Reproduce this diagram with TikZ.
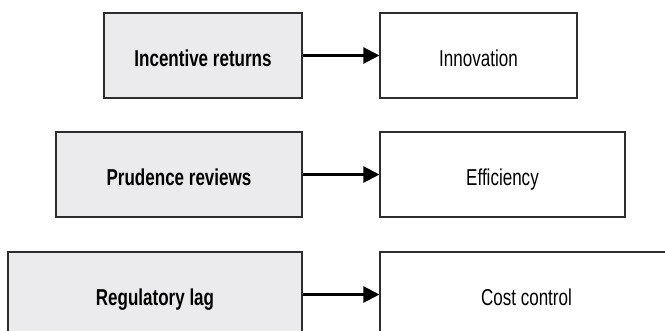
\documentclass[tikz,border=0pt]{standalone}
\usepackage{fontspec}
\setmainfont{Liberation Sans}
\usepackage{graphicx}
\usepackage{xcolor}
\definecolor{box-grey}{RGB}{235,235,237}
\definecolor{edge-grey}{RGB}{45,45,45}
\usepackage{tikz}
\usetikzlibrary{arrows.meta}

% narrow the lettering of the two columns
\newcommand{\causetext}[1]{\scalebox{0.74}[1]{#1}}
\newcommand{\effecttext}[1]{\scalebox{0.74}[1]{#1}}

\begin{document}
\begin{tikzpicture}[x=1pt,y=-1pt,>={Triangle[length=16pt,width=16pt]},
	cause/.style={draw=edge-grey,fill=box-grey,line width=1.1pt,
		minimum height=85pt,inner sep=0pt,text height=22pt,text depth=0pt,
		font=\bfseries\fontsize{23}{27}\selectfont},
	effect/.style={draw=edge-grey,fill=white,line width=1.1pt,
		minimum height=85pt,inner sep=0pt,text height=22pt,text depth=0pt,
		font=\fontsize{23}{27}\selectfont}]

	\useasboundingbox (0,0) rectangle (665,331);
	\clip (0,0) rectangle (665,331);

	% policy boxes (left column)
	\node[cause,minimum width=198pt] (incentive) at (203,55.5) {\causetext{Incentive returns}};
	\node[cause,minimum width=246pt] (prudence)  at (179,174.5) {\causetext{Prudence reviews}};
	\node[cause,minimum width=294pt] (lag)       at (155,294.5) {\causetext{Regulatory lag}};

	% outcome boxes (right column)
	\node[effect,minimum width=197pt] (innovation) at (478.5,55.5) {\effecttext{Innovation}};
	\node[effect,minimum width=245pt] (efficiency) at (502.5,174.5) {\effecttext{Efficiency}};
	\node[effect,minimum width=293pt] (cost)       at (526.5,294.5) {\effecttext{Cost control}};

	\draw[->,line width=2.2pt] (incentive) -- (innovation);
	\draw[->,line width=2.2pt] (prudence) -- (efficiency);
	\draw[->,line width=2.2pt] (lag) -- (cost);

\end{tikzpicture}
\end{document}
